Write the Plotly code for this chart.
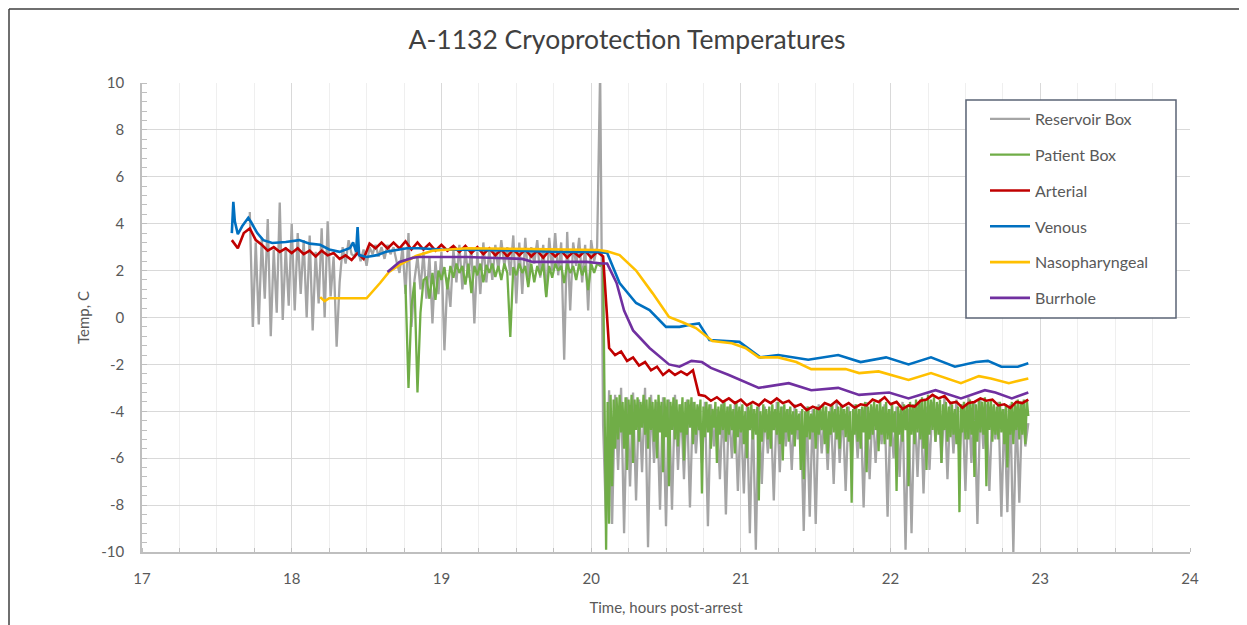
import plotly.graph_objects as go

# ---------------- data ----------------
TITLE = "A-1132 Cryoprotection Temperatures"
X_TITLE = "Time, hours post-arrest"
Y_TITLE = "Temp, C"
X_TICKS = [17, 18, 19, 20, 21, 22, 23, 24]
X_TICK_LABELS = ["17", "18", "19", "20", "21", "22", "23", "24"]
Y_TICKS = [-10, -8, -6, -4, -2, 0, 2, 4, 6, 8, 10]
Y_TICK_LABELS = ["-10", "-8", "-6", "-4", "-2", "0", "2", "4", "6", "8", "10"]

# Reservoir Box: logged every 0.02 h starting at 17.72 h
RES_T0, RES_DT = 17.72, 0.02
RES_PRE = [4.5, -0.4, 3.2, -0.3, 3.4, 0.8, 4.2, -0.8, 2.9, 0.2, 4.9, -0.1, 3.0, 0.5, 4.0, 0.3,
           3.6, 1.0, 3.3, 0.0, 3.5, -0.55, 2.8, 0.6, 3.8, 0.0, 4.1, 0.9, 2.6, -1.25, 1.5, 3.0,
           2.3, 3.3, 2.7,
           2.6, 3.0, 2.4, 2.9, 2.2, 3.0, 2.7, 3.1, 2.6, 3.0, 2.5, 3.1, 2.7, 3.0, 2.4, 1.9, 3.0,
           1.0, 3.6, -0.4, 1.6, 2.6, 1.2, 2.8, 0.8, 2.6, -0.25, 2.4, 1.0, 2.8, -1.4, 1.7, 0.45,
           2.9, 1.5, 3.1, 1.2, 2.9, 1.7, 3.0, -0.25, 2.8, 1.0, 3.2, 1.5, 2.9, 1.6, 3.1, 2.0,
           3.3, 2.2, 3.0, 1.8, 3.5, 0.6, 3.2, 1.0, 3.4, 1.7, 3.0, 2.3, 3.3, 1.7, 3.1, 0.9,
           3.4, 2.0, 3.6, 1.8, 3.2, -1.8, 3.65, 0.3, 3.2, 2.2, 3.4, 1.5, 3.1, 0.3, 3.3, 2.4,
           3.0, 10.5, -4.6]
RES_LOWS = [-8.8, -8.8, -6.5, -9.2, -7.2, -7.8, -6.6, -9.8, -6.2, -8.2, -8.9, -8.2, -6.5, -6.9,
            -8.1, -5.8, -6.2, -8.9, -5.5, -6.9, -8.4, -6.0, -7.4, -7.5, -9.2, -9.9, -7.1, -5.8,
            -7.8, -6.6, -5.5, -6.5, -5.2, -9.1, -8.5, -8.8, -5.8, -6.5, -7.1, -6.2, -7.4, -6.2,
            -6.0, -8.1, -6.9, -6.2, -5.4, -8.5, -6.0, -6.8, -9.9, -9.2, -6.8, -7.5, -6.5, -5.3,
            -6.2, -6.9, -5.8, -6.0, -7.4, -6.2, -8.8, -5.6, -7.4, -5.2, -8.5, -8.3, -10.0, -7.9,
            -5.5]
RES_HIGHS = [-3.1, -3.3, -3.0, -3.4, -3.2, -3.5, -3.0, -3.3, -3.6, -3.4, -3.5, -3.3, -3.7, -3.5,
             -3.6, -3.8, -3.6, -3.7, -3.9, -3.6, -3.8, -3.7, -4.0, -3.8, -3.9, -3.7, -3.8, -4.0,
             -3.6, -3.8, -3.9, -3.7, -4.0, -3.8, -3.9, -3.7, -4.0, -3.8, -3.6, -3.9, -3.8, -3.7,
             -3.9, -3.6, -3.8, -4.0, -3.7, -3.9, -3.8, -3.6, -3.9, -3.7, -3.5, -3.8, -3.6, -3.7,
             -3.4, -3.6, -3.5, -3.7, -3.4, -3.6, -3.5, -3.7, -3.8, -3.6, -3.9, -3.7, -3.8, -3.6]
RES_LAST = [-4.5]

# Patient Box: every 0.02 h from 18.76 h to the drop at 20.10 h ...
PAT_T0, PAT_DT = 18.76, 0.02
PAT_PRE = [1.4, -3.0, 0.5, 1.5, -3.2, 0.2, 1.6, 1.7, 0.8, 1.9, 0.75, 2.0, 1.6, 2.15, 1.2, 2.2,
           1.7, 2.3, 1.9, 2.2, 1.4, 2.3, 1.04, 2.2, 1.8, 2.3, 1.5, 2.24, 1.9, 2.3, 1.73, 2.2,
           1.6, 2.3, 1.9, -0.83, 2.15, 1.8, 2.3, 1.9, 2.2, 1.3, 2.3, 1.5, 2.2, 1.8, 2.3, 0.87,
           2.2, 1.7, 2.3, 2.0, 2.2, 1.47, 2.3, 1.9, 2.2, 1.6, 2.3, 1.8, 2.2, 1.17, 2.3, 1.9,
           2.3, 2.2, 2.3, -9.9]
# ... then every 0.01 h from 20.11 h (alternating upper / lower readings)
PAT_T1, PAT_DT1 = 20.11, 0.01
PAT_HIGHS = [-3.6, -3.3, -3.5, -3.4, -3.3, -3.6, -3.4, -3.5, -3.3, -3.5,
             -3.4, -3.6, -3.3, -3.5, -3.4, -3.6, -3.5, -3.3, -3.6, -3.4,
             -3.5, -3.6, -3.4, -3.5, -3.7, -3.4, -3.6, -3.5, -3.4, -3.6,
             -3.7, -3.5, -3.8, -3.6, -3.7, -3.9, -3.6, -3.8, -3.7, -3.6,
             -3.8, -3.7, -3.9, -3.6, -3.8, -3.7, -4.0, -3.8, -3.7, -3.9,
             -3.8, -4.0, -3.7, -3.9, -3.8, -3.7, -3.9, -3.6, -3.8, -3.7,
             -3.9, -3.8, -4.0, -3.9, -4.1, -3.9, -4.0, -3.8, -4.1, -3.9,
             -3.8, -3.9, -3.7, -3.8, -4.0, -3.7, -3.9, -3.8, -3.7, -3.9,
             -3.8, -4.0, -3.9, -3.7, -3.9, -3.8, -3.6, -3.8, -3.7, -3.6,
             -3.7, -3.5, -3.8, -3.6, -3.9, -3.7, -4.0, -3.8, -3.9, -3.7,
             -3.8, -3.6, -3.7, -3.5, -3.6, -3.4, -3.5, -3.3, -3.5, -3.4,
             -3.6, -3.5, -3.7, -3.6, -3.8, -3.7, -3.9, -3.8, -3.7, -3.6,
             -3.7, -3.5, -3.6, -3.7, -3.5, -3.6, -3.4, -3.6, -3.5, -3.7,
             -3.8, -3.6, -3.9, -3.7, -3.8, -3.6, -3.7, -3.5, -3.6, -3.5,
             -3.5]
PAT_LOWS = [-8.8, -7.2, -5.6, -5.2, -4.9, -5.6, -6.5, -5.0, -6.2, -4.8,
            -5.3, -4.7, -5.0, -5.6, -4.8, -5.3, -6.0, -4.9, -6.6, -5.1,
            -7.2, -4.8, -5.2, -5.5, -4.9, -6.1, -5.0, -4.7, -5.4, -5.0,
            -4.8, -7.5, -5.1, -4.9, -5.6, -4.7, -6.2, -5.0, -4.8, -5.3,
            -5.0, -4.8, -5.8, -5.1, -4.9, -5.4, -6.0, -4.8, -5.2, -5.0,
            -7.8, -5.3, -4.9, -5.2, -5.6, -4.8, -5.0, -5.4, -6.1, -4.9,
            -5.3, -5.0, -5.5, -4.8, -6.5, -6.9, -5.1, -5.2, -4.9, -5.6,
            -5.0, -4.8, -5.4, -5.8, -5.0, -4.9, -5.2, -5.6, -4.8, -5.1,
            -5.3, -7.9, -5.0, -5.3, -5.6, -4.9, -6.6, -5.2, -5.0, -4.8,
            -5.7, -5.0, -5.4, -5.2, -5.5, -4.9, -7.4, -5.0, -5.3, -4.8,
            -7.2, -5.0, -5.4, -4.9, -5.2, -5.6, -6.5, -5.0, -4.8, -5.3,
            -5.0, -6.2, -4.8, -5.3, -5.1, -5.0, -5.4, -8.3, -4.9, -5.2,
            -5.2, -5.0, -6.8, -5.3, -4.9, -5.0, -7.2, -4.8, -5.3, -5.0,
            -5.2, -4.9, -5.4, -6.4, -5.0, -5.4, -4.8, -5.2, -5.0, -5.4,
            -4.2]

# Arterial: logged every 0.04 h starting at 17.60 h
ART_T0, ART_DT = 17.60, 0.04
ART_V = [3.3, 2.95, 3.6, 3.8, 3.3, 3.1, 2.85, 3.0, 2.8, 2.95, 2.75, 2.95, 2.7, 2.85, 2.6, 2.85,
         2.65, 2.75, 2.5, 2.65, 2.45, 2.75, 2.5, 3.15, 2.95, 3.2, 2.95, 3.2, 2.95, 3.25, 2.9, 3.2,
         2.9, 3.15, 2.85, 3.1, 2.85, 3.05, 2.8, 3.05, 2.75, 3.0, 2.7, 2.95, 2.65, 2.9, 2.6, 2.9,
         2.65, 2.9, 2.6, 2.85, 2.55, 2.85, 2.6, 2.85, 2.55, 2.8, 2.6, 2.85, 2.55, 2.8, 2.6,
         -1.3, -1.6, -1.45, -1.85, -1.7, -2.05, -1.9, -2.25, -2.1, -2.45, -2.25, -2.45, -2.3,
         -2.45, -2.25, -3.3, -3.35, -3.55, -3.4, -3.6, -3.45, -3.65, -3.5, -3.75, -3.6, -3.75,
         -3.5, -3.65, -3.45, -3.65, -3.55, -3.8, -3.7, -3.95, -3.8, -3.9, -3.65, -3.75, -3.55,
         -3.8, -3.65, -3.85, -3.7, -3.75, -3.5, -3.6, -3.4, -3.7, -3.6, -3.9, -3.75, -3.8,
         -3.55, -3.5, -3.3, -3.45, -3.35, -3.65, -3.6, -3.85, -3.65, -3.6, -3.45, -3.55, -3.5,
         -3.75, -3.7, -3.85, -3.6, -3.65, -3.5]

VEN_T = [17.60, 17.61, 17.62, 17.64, 17.67, 17.71, 17.73, 17.77, 17.81, 17.87, 17.96, 18.05,
         18.12, 18.19, 18.25, 18.32, 18.39, 18.41, 18.43, 18.44, 18.45, 18.50, 18.57, 18.63,
         18.77, 18.85, 19.00, 19.50, 19.80, 20.05, 20.107, 20.19, 20.30, 20.39, 20.50, 20.59,
         20.67, 20.72, 20.79, 20.99, 21.13, 21.25, 21.45, 21.65, 21.80, 21.97, 22.12, 22.27,
         22.43, 22.57, 22.65, 22.74, 22.85, 22.92]
VEN_V = [3.6, 4.93, 4.1, 3.55, 3.9, 4.25, 4.05, 3.6, 3.3, 3.18, 3.22, 3.3, 3.15, 3.1, 2.9, 2.8,
         2.97, 3.2, 2.8, 3.86, 2.66, 2.58, 2.66, 2.8, 2.95, 2.95, 2.9, 2.85, 2.8, 2.8, 2.75, 1.47,
         0.62, 0.32, -0.4, -0.4, -0.3, -0.25, -0.96, -1.04, -1.7, -1.6, -1.8, -1.6, -1.9, -1.7,
         -2.0, -1.7, -2.1, -1.9, -1.85, -2.1, -2.1, -1.95]

NAS_T = [18.19, 18.22, 18.25, 18.50, 18.59, 18.65, 18.72, 18.83, 18.94, 19.17, 19.60, 20.05,
         20.107, 20.19, 20.30, 20.41, 20.52, 20.61, 20.70, 20.81, 20.94, 21.03, 21.12, 21.25,
         21.37, 21.47, 21.70, 21.79, 21.92, 22.12, 22.27, 22.47, 22.59, 22.67, 22.79, 22.92]
NAS_V = [0.87, 0.7, 0.82, 0.82, 1.47, 1.94, 2.24, 2.62, 2.85, 2.95, 2.92, 2.88, 2.82, 2.66, 2.0,
         1.04, 0.02, -0.2, -0.45, -1.0, -1.1, -1.3, -1.7, -1.7, -1.9, -2.2, -2.2, -2.37, -2.3,
         -2.66, -2.37, -2.8, -2.5, -2.6, -2.8, -2.6]

BUR_T = [18.64, 18.72, 18.81, 18.85, 19.17, 19.54, 19.61, 19.97, 20.07, 20.107, 20.17, 20.22,
         20.28, 20.39, 20.52, 20.59, 20.67, 20.74, 20.80, 20.92, 21.12, 21.32, 21.47, 21.65,
         21.79, 21.99, 22.12, 22.30, 22.47, 22.63, 22.70, 22.81, 22.92]
BUR_V = [1.94, 2.37, 2.55, 2.58, 2.58, 2.5, 2.37, 2.37, 2.3, 2.3, 1.47, 0.3, -0.55, -1.3, -2.0,
         -2.1, -1.85, -1.9, -2.15, -2.45, -3.0, -2.8, -3.1, -3.0, -3.3, -3.2, -3.45, -3.1, -3.45,
         -3.1, -3.2, -3.45, -3.2]

NAMES = ["Reservoir Box", "Patient Box", "Arterial", "Venous", "Nasopharyngeal", "Burrhole"]
COLORS = ["#A5A5A5", "#70AD47", "#C00000", "#0070C0", "#FFC000", "#7030A0"]


def interleave(first, second):
    out = []
    for i, v in enumerate(first):
        out.append(v)
        if i < len(second):
            out.append(second[i])
    return out


def times(t0, dt, n):
    return [round(t0 + dt * i, 4) for i in range(n)]


res_v = RES_PRE + interleave(RES_LOWS, RES_HIGHS) + RES_LAST
res_t = times(RES_T0, RES_DT, len(res_v))
pat_post = interleave(PAT_HIGHS, PAT_LOWS)
pat_v = PAT_PRE + pat_post
pat_t = times(PAT_T0, PAT_DT, len(PAT_PRE)) + times(PAT_T1, PAT_DT1, len(pat_post))

series = [
    (res_t, res_v),
    (pat_t, pat_v),
    (times(ART_T0, ART_DT, len(ART_V)), ART_V),
    (VEN_T, VEN_V),
    (NAS_T, NAS_V),
    (BUR_T, BUR_V),
]
WIDTHS = [2.3, 2.3, 2.6, 2.6, 2.6, 2.6]

FONT = "Lato, Carlito, Calibri, sans-serif"
TXT = "#595959"

fig = go.Figure()
for (t, v), name, color, w in zip(series, NAMES, COLORS, WIDTHS):
    fig.add_trace(go.Scatter(
        x=t, y=v, name=name, mode="lines", legendgroup=name,
        line=dict(color=color, width=w, simplify=False),
    ))

# page is offset by the browser's default 8px body margin
OFF = 8
W, H = 1247 - OFF, 625 - OFF
L, T = 142 - OFF, 83 - OFF
R, B = W - (1190 - OFF), H - (552 - OFF)
pw, ph = W - L - R, H - T - B


def px_x(px):
    return (px - OFF - L) / pw


def px_y(py):
    return (H - B - (py - OFF)) / ph


shapes = [
    # outer chart frame (left and top edges visible)
    dict(type="line", xref="paper", yref="paper", x0=px_x(9), x1=px_x(1260),
         y0=px_y(9), y1=px_y(9), line=dict(color="#3F3F3F", width=1.5)),
    dict(type="line", xref="paper", yref="paper", x0=px_x(9), x1=px_x(9),
         y0=px_y(9), y1=px_y(640), line=dict(color="#3F3F3F", width=1.5)),
    # legend box
    dict(type="rect", xref="paper", yref="paper", x0=px_x(966), x1=px_x(1176),
         y0=px_y(318), y1=px_y(100), fillcolor="white", layer="above",
         line=dict(color="#5B6476", width=1.5)),
]

fig.update_layout(
    width=W, height=H, autosize=False,
    margin=dict(l=L, r=R, t=T, b=B),
    paper_bgcolor="white", plot_bgcolor="white",
    font=dict(family=FONT, color=TXT, size=14),
    title=dict(text=TITLE, x=(627 - OFF) / W, xref="container", xanchor="center",
               y=1 - (40 - OFF) / H, yref="container", yanchor="middle",
               font=dict(family=FONT, size=26.5, color="#404040")),
    xaxis=dict(range=[17, 24], tickvals=X_TICKS, ticktext=X_TICK_LABELS,
               showgrid=True, gridcolor="#D9D9D9", gridwidth=1.3, zeroline=False,
               showline=True, linecolor="#BFBFBF", linewidth=1.5, ticks="",
               ticklabelstandoff=12,
               tickfont=dict(size=15, color=TXT),
               minor=dict(dtick=0.25, tick0=17, showgrid=True, gridcolor="#EFEFEF",
                          gridwidth=1, ticks="inside", ticklen=4, tickcolor="#BFBFBF"),
               title=dict(text=X_TITLE, standoff=17, font=dict(size=15, color=TXT))),
    yaxis=dict(range=[-10, 10], tickvals=Y_TICKS, ticktext=Y_TICK_LABELS,
               showgrid=True, gridcolor="#D9D9D9", gridwidth=1.3, zeroline=False,
               showline=True, linecolor="#BFBFBF", linewidth=1.5, ticks="",
               ticklabelstandoff=13,
               tickfont=dict(size=15, color=TXT),
               minor=dict(dtick=0.4, tick0=-10, showgrid=False, ticks="inside",
                          ticklen=5, tickcolor="#BFBFBF"),
               title=dict(text=Y_TITLE, standoff=8, font=dict(size=15, color=TXT))),
    legend=dict(x=px_x(985), y=px_y(102), xanchor="left", yanchor="top",
                bgcolor="rgba(0,0,0,0)", borderwidth=0, tracegroupgap=12,
                font=dict(size=16, color=TXT), itemwidth=40),
    shapes=shapes,
    showlegend=True,
)

fig.write_html("out.html")
